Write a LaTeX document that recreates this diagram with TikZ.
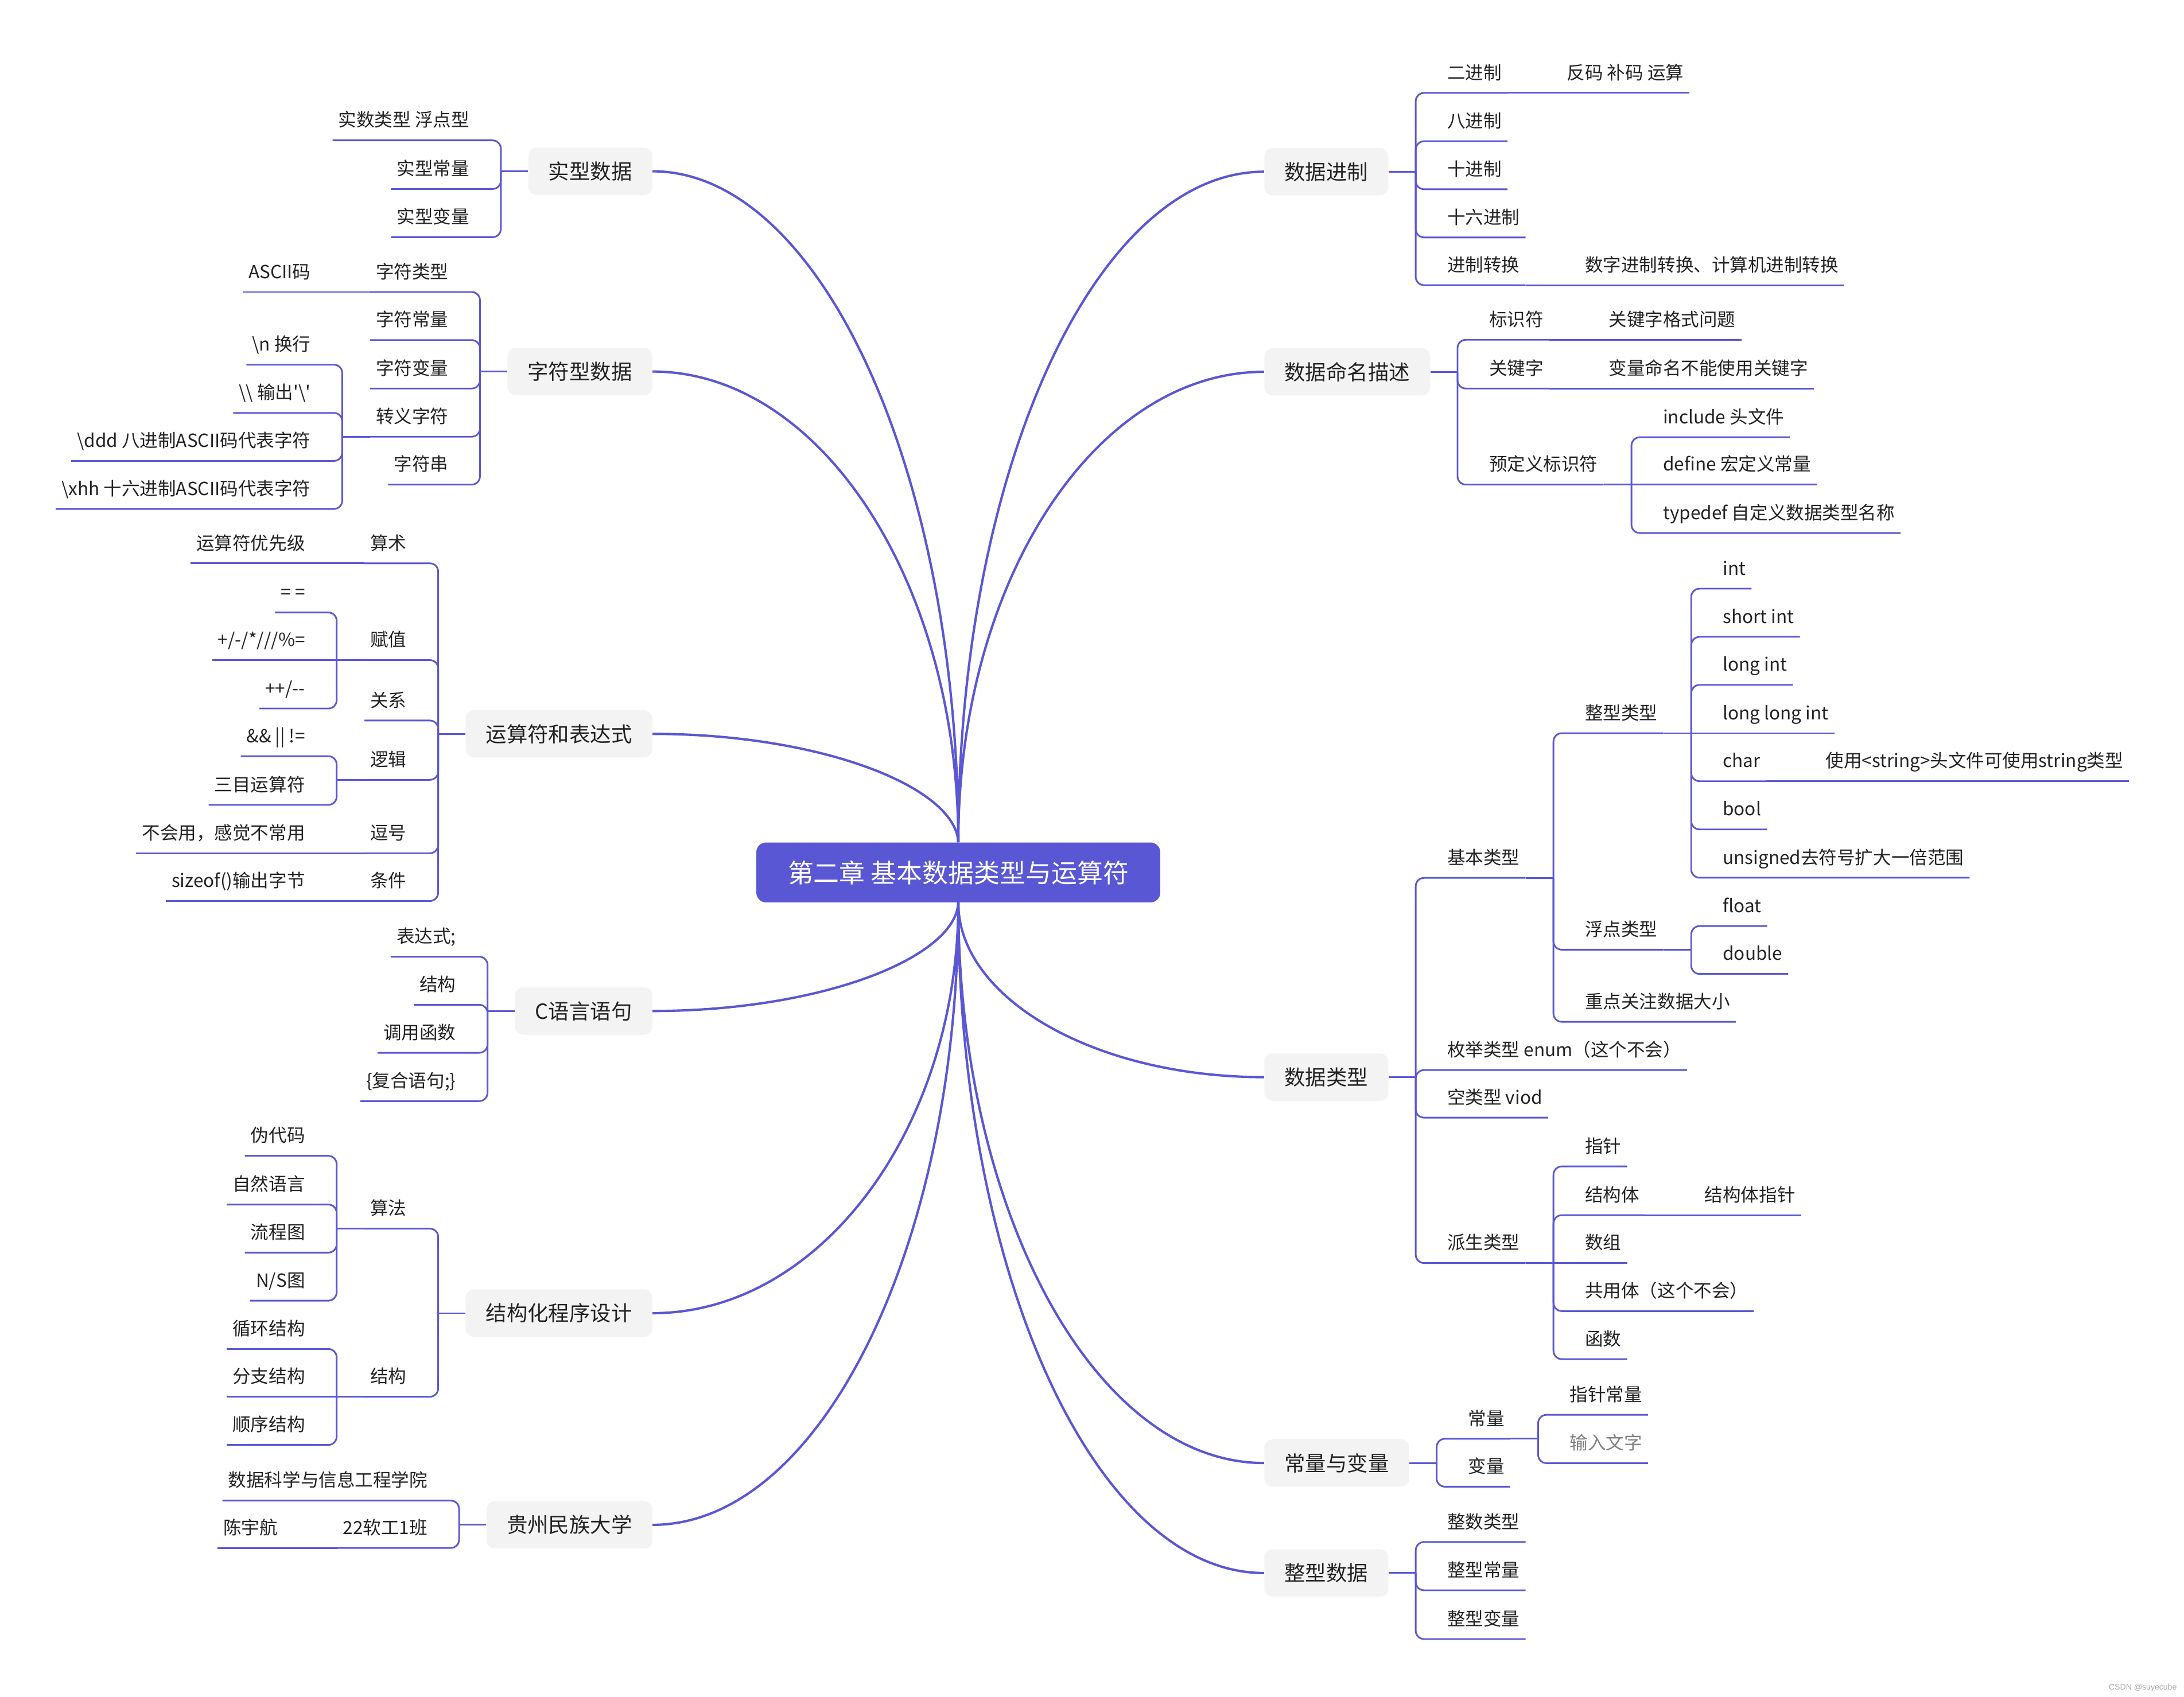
\documentclass[tikz,border=0pt]{standalone}
\usepackage{fontspec}
\setmainfont{Noto Sans CJK SC}[Ligatures=TeXOff]
\newfontfamily\wmfont{Liberation Sans}
\usetikzlibrary{calc}
\definecolor{lnc}{HTML}{5A57D5}
\definecolor{boxc}{HTML}{F3F3F3}
\definecolor{txt}{HTML}{222222}
\tikzset{
  box/.style={fill=boxc, rounded corners=6pt, minimum height=34pt, inner xsep=14.5pt, font=\fontsize{15}{18}\selectfont, text=txt},
  root/.style={fill=lnc, rounded corners=7pt, minimum width=290pt, minimum height=43pt, font=\fontsize{18.5}{22}\selectfont, text=white},
  leaf/.style={inner xsep=4pt, inner ysep=0pt, text height=9pt, text depth=9.6pt, font=\fontsize{13}{15}\selectfont, text=txt},
  leafL/.style={leaf, anchor=south east, xshift=-18.5pt},
  leafR/.style={leaf, anchor=south west, xshift=18.5pt},
  br/.style={draw=lnc, line width=1.2pt, rounded corners=6pt},
  trunk/.style={draw=lnc, line width=1.7pt},
}
% leaf nodes with connectors
\newcommand\lfL[4]{\node[leafL] (#1) at (#2 |- 0,#3) {#4};\draw[br] (#2) |- (#1.south west);}
\newcommand\lfLs[4]{\node[leafL] (#1) at (#2 |- 0,#3) {#4};\draw[br] (#2) -- (#1.south west);}
\newcommand\lfR[4]{\node[leafR] (#1) at (#2 |- 0,#3) {#4};\draw[br] (#2) |- (#1.south east);}
\newcommand\lfRs[4]{\node[leafR] (#1) at (#2 |- 0,#3) {#4};\draw[br] (#2) -- (#1.south east);}
% bracket points
\newcommand\kR[2]{\coordinate (#1) at ([xshift=20pt]#2.south east); \draw[br] (#2.south east) -- (#1);}
\newcommand\kL[2]{\coordinate (#1) at ([xshift=-20pt]#2.south west); \draw[br] (#2.south west) -- (#1);}
\newcommand\bR[2]{\coordinate (#1) at ([xshift=19.5pt]#2.east); \draw[br] (#2.east) -- (#1);}
\newcommand\bL[2]{\coordinate (#1) at ([xshift=-19.5pt]#2.west); \draw[br] (#2.west) -- (#1);}
\begin{document}
\begin{tikzpicture}[x=1pt,y=-1pt]
\useasboundingbox (0,0) rectangle (1568,1218.6);
\fill[white] (0,0) rectangle (1568,1218.6);

% root
\node[root] (C) at (688,626.5) {第二章 基本数据类型与运算符};

% main branches
\node[box,anchor=east] (L1) at (468.5,123) {实型数据};
\node[box,anchor=east] (L2) at (468.5,266.8) {字符型数据};
\node[box,anchor=east] (L3) at (468.5,527) {运算符和表达式};
\node[box,anchor=east] (L4) at (468.5,726) {C语言语句};
\node[box,anchor=east] (L5) at (468.5,943) {结构化程序设计};
\node[box,anchor=east] (L6) at (468.5,1095) {贵州民族大学};
\node[box,anchor=west] (R1) at (907.5,123.3) {数据进制};
\node[box,anchor=west] (R2) at (907.5,267) {数据命名描述};
\node[box,anchor=west] (R3) at (907.5,773.5) {数据类型};
\node[box,anchor=west] (R4) at (907.5,1050.6) {常量与变量};
\node[box,anchor=west] (R5) at (907.5,1129.6) {整型数据};

\draw[trunk] (C.north) .. controls (688,339) and (589,123) .. (L1.east);
\draw[trunk] (C.north) .. controls (688,418) and (589,266.8) .. (L2.east);
\draw[trunk] (C.north) .. controls (686,565) and (589,527) .. (L3.east);
\draw[trunk] (C.south) .. controls (686,688) and (589,726) .. (L4.east);
\draw[trunk] (C.south) .. controls (688,810) and (589,943) .. (L5.east);
\draw[trunk] (C.south) .. controls (688,895) and (589,1095) .. (L6.east);
\draw[trunk] (C.north) .. controls (688,339) and (786,123.3) .. (R1.west);
\draw[trunk] (C.north) .. controls (688,418) and (786,267) .. (R2.west);
\draw[trunk] (C.south) .. controls (688,717) and (786,773.5) .. (R3.west);
\draw[trunk] (C.south) .. controls (688,870) and (786,1050.6) .. (R4.west);
\draw[trunk] (C.south) .. controls (688,914) and (786,1129.6) .. (R5.west);

% ---- L1 实型数据
\bL{kL1}{L1}
\lfL{a1}{kL1}{100.8}{实数类型 浮点型}
\lfL{a2}{kL1}{135.7}{实型常量}
\lfL{a3}{kL1}{170.3}{实型变量}

% ---- L2 字符型数据
\bL{kL2}{L2}
\lfL{b1}{kL2}{209.7}{字符类型}
\kL{kb1}{b1}
\lfLs{b11}{kb1}{209.7}{ASCII码}
\lfL{b2}{kL2}{244.2}{字符常量}
\lfL{b3}{kL2}{279}{字符变量}
\lfL{b4}{kL2}{313.6}{转义字符}
\kL{kb4}{b4}
\lfL{b41}{kb4}{261.9}{\textbackslash n 换行}
\lfL{b42}{kb4}{296.5}{\textbackslash\textbackslash{} 输出'\textbackslash'}
\lfL{b43}{kb4}{331}{\textbackslash ddd 八进制ASCII码代表字符}
\lfL{b44}{kb4}{365.5}{\textbackslash xhh 十六进制ASCII码代表字符}
\lfL{b5}{kL2}{348}{字符串}

% ---- L3 运算符和表达式
\bL{kL3}{L3}
\lfL{c1}{kL3}{404.5}{算术}
\kL{kc1}{c1}
\lfLs{c11}{kc1}{404.5}{运算符优先级}
\lfL{c2}{kL3}{474}{赋值}
\kL{kc2}{c2}
\lfL{c21}{kc2}{439.8}{= =}
\lfLs{c22}{kc2}{474}{+/-/*///\%=}
\lfL{c23}{kc2}{508.8}{++/--}
\lfL{c3}{kL3}{517.4}{关系}
\lfL{c4}{kL3}{560}{逻辑}
\kL{kc4}{c4}
\lfL{c41}{kc4}{543}{\&\& || !=}
\lfL{c42}{kc4}{578}{三目运算符}
\lfL{c5}{kL3}{612.7}{逗号}
\kL{kc5}{c5}
\lfLs{c51}{kc5}{612.7}{不会用，感觉不常用}
\lfL{c6}{kL3}{647}{条件}
\kL{kc6}{c6}
\lfLs{c61}{kc6}{647}{sizeof()输出字节}

% ---- L4 C语言语句
\bL{kL4}{L4}
\lfL{d1}{kL4}{687}{表达式;}
\lfL{d2}{kL4}{721.5}{结构}
\lfL{d3}{kL4}{756}{调用函数}
\lfL{d4}{kL4}{790.7}{\{复合语句;\}}

% ---- L5 结构化程序设计
\bL{kL5}{L5}
\lfL{e1}{kL5}{882.3}{算法}
\kL{ke1}{e1}
\lfL{e11}{ke1}{830}{伪代码}
\lfL{e12}{ke1}{865}{自然语言}
\lfL{e13}{ke1}{899.5}{流程图}
\lfL{e14}{ke1}{934}{N/S图}
\lfL{e2}{kL5}{1003}{结构}
\kL{ke2}{e2}
\lfL{e21}{ke2}{968.7}{循环结构}
\lfLs{e22}{ke2}{1003}{分支结构}
\lfL{e23}{ke2}{1037.6}{顺序结构}

% ---- L6 贵州民族大学
\bL{kL6}{L6}
\lfL{f1}{kL6}{1077.6}{数据科学与信息工程学院}
\lfL{f2}{kL6}{1111.6}{22软工1班}
\kL{kf2}{f2}
\lfLs{f21}{kf2}{1111.6}{陈宇航}

% ---- R1 数据进制
\bR{kR1}{R1}
\lfR{g1}{kR1}{66.7}{二进制}
\kR{kg1}{g1}
\lfRs{g11}{kg1}{66.7}{反码 补码 运算}
\lfR{g2}{kR1}{101.4}{八进制}
\lfR{g3}{kR1}{135.9}{十进制}
\lfR{g4}{kR1}{170.5}{十六进制}
\lfR{g5}{kR1}{204.8}{进制转换}
\kR{kg5}{g5}
\lfRs{g51}{kg5}{204.8}{数字进制转换、计算机进制转换}

% ---- R2 数据命名描述
\bR{kR2}{R2}
\lfR{h1}{kR2}{244}{标识符}
\kR{kh1}{h1}
\lfRs{h11}{kh1}{244}{关键字格式问题}
\lfR{h2}{kR2}{279}{关键字}
\kR{kh2}{h2}
\lfRs{h21}{kh2}{279}{变量命名不能使用关键字}
\lfR{h3}{kR2}{348}{预定义标识符}
\kR{kh3}{h3}
\lfR{h31}{kh3}{314}{include 头文件}
\lfRs{h32}{kh3}{348}{define 宏定义常量}
\lfR{h33}{kh3}{382.8}{typedef 自定义数据类型名称}

% ---- R3 数据类型
\bR{kR3}{R3}
\lfR{i1}{kR3}{630.4}{基本类型}
\kR{ki1}{i1}
\lfR{i11}{ki1}{526.5}{整型类型}
\kR{ki11}{i11}
\lfR{i111}{ki11}{422.7}{int}
\lfR{i112}{ki11}{457.3}{short int}
\lfR{i113}{ki11}{491.8}{long int}
\lfRs{i114}{ki11}{526.5}{long long int}
\lfR{i115}{ki11}{561}{char}
\kR{ki115}{i115}
\lfRs{i1151}{ki115}{561}{使用<string>头文件可使用string类型}
\lfR{i116}{ki11}{595.6}{bool}
\lfR{i117}{ki11}{630.3}{unsigned去符号扩大一倍范围}
\lfR{i12}{ki1}{682}{浮点类型}
\kR{ki12}{i12}
\lfR{i121}{ki12}{665}{float}
\lfR{i122}{ki12}{699.4}{double}
\lfR{i13}{ki1}{733.8}{重点关注数据大小}
\lfR{i2}{kR3}{768.4}{枚举类型 enum（这个不会）}
\lfR{i3}{kR3}{802.6}{空类型 viod}
\lfR{i4}{kR3}{907}{派生类型}
\kR{ki4}{i4}
\lfR{i41}{ki4}{837.6}{指针}
\lfR{i42}{ki4}{872.6}{结构体}
\kR{ki42}{i42}
\lfRs{i421}{ki42}{872.6}{结构体指针}
\lfRs{i43}{ki4}{907}{数组}
\lfR{i44}{ki4}{941.5}{共用体（这个不会）}
\lfR{i45}{ki4}{976}{函数}

% ---- R4 常量与变量
\bR{kR4}{R4}
\lfR{j1}{kR4}{1033.2}{常量}
\kR{kj1}{j1}
\lfR{j11}{kj1}{1016}{指针常量}
\node[leafR, text=gray] (j12) at (kj1 |- 0,1050.7) {输入文字};
\draw[br] (kj1) |- (j12.south east);
\lfR{j2}{kR4}{1067.6}{变量}

% ---- R5 整型数据
\bR{kR5}{R5}
\lfR{k1}{kR5}{1107.3}{整数类型}
\lfR{k2}{kR5}{1142}{整型常量}
\lfR{k3}{kR5}{1177}{整型变量}

% watermark
\node[font=\fontsize{5.8}{7}\selectfont\wmfont, text=gray!70, anchor=east, inner sep=0pt] (wm) at (1563,1212) {CSDN @suyecube};
\end{tikzpicture}
\end{document}
